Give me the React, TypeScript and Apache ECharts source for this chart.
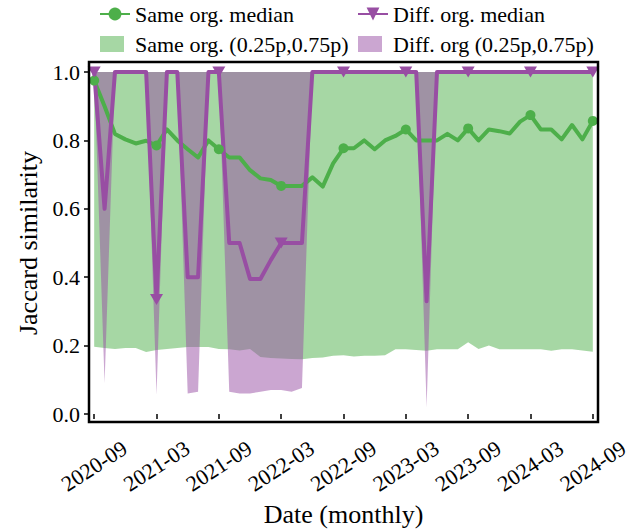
import React, { useEffect, useRef } from "react";
import * as echarts from "echarts";

const months = [
  "2020-09", "2020-10", "2020-11", "2020-12",
  "2021-01", "2021-02", "2021-03", "2021-04", "2021-05", "2021-06", "2021-07", "2021-08", "2021-09", "2021-10", "2021-11", "2021-12",
  "2022-01", "2022-02", "2022-03", "2022-04", "2022-05", "2022-06", "2022-07", "2022-08", "2022-09", "2022-10", "2022-11", "2022-12",
  "2023-01", "2023-02", "2023-03", "2023-04", "2023-05", "2023-06", "2023-07", "2023-08", "2023-09", "2023-10", "2023-11", "2023-12",
  "2024-01", "2024-02", "2024-03", "2024-04", "2024-05", "2024-06", "2024-07", "2024-08", "2024-09",
];

const sameMedian = [
  0.975, 0.9, 0.819, 0.803, 0.791, 0.799, 0.785, 0.832, 0.8, 0.774, 0.75, 0.8,
  0.774, 0.75, 0.75, 0.713, 0.689, 0.684, 0.667, 0.667, 0.667, 0.692, 0.665, 0.733,
  0.777, 0.777, 0.8, 0.774, 0.8, 0.813, 0.832, 0.8, 0.8, 0.8, 0.819, 0.8,
  0.835, 0.8, 0.832, 0.827, 0.82, 0.855, 0.874, 0.832, 0.832, 0.803, 0.845, 0.803,
  0.857,
];

const sameLower = [
  0.197, 0.193, 0.19, 0.193, 0.193, 0.181, 0.187, 0.19, 0.193, 0.196, 0.196, 0.196,
  0.19, 0.189, 0.186, 0.19, 0.167, 0.164, 0.162, 0.161, 0.16, 0.164, 0.165, 0.17,
  0.172, 0.168, 0.17, 0.17, 0.172, 0.189, 0.189, 0.187, 0.185, 0.189, 0.189, 0.189,
  0.21, 0.19, 0.2, 0.189, 0.189, 0.189, 0.189, 0.189, 0.185, 0.189, 0.189, 0.186,
  0.182,
];

const sameUpper = [
  1, 1, 1, 1, 1, 1, 1, 1, 1, 1, 1, 1,
  1, 1, 1, 1, 1, 1, 1, 1, 1, 1, 1, 1,
  1, 1, 1, 1, 1, 1, 1, 1, 1, 1, 1, 1,
  1, 1, 1, 1, 1, 1, 1, 1, 1, 1, 1, 1,
  1,
];

const diffMedian = [
  1, 0.6, 1, 1, 1, 1, 0.335, 1, 1, 0.4, 0.4, 1,
  1, 0.5, 0.5, 0.395, 0.395, 0.45, 0.5, 0.5, 0.5, 1, 1, 1,
  1, 1, 1, 1, 1, 1, 1, 1, 0.33, 1, 1, 1,
  1, 1, 1, 1, 1, 1, 1, 1, 1, 1, 1, 1,
  1,
];

const diffLower = [
  1, 0.09, 1, 1, 1, 1, 0.056, 1, 1, 0.06, 0.065, 1,
  1, 0.065, 0.06, 0.06, 0.065, 0.07, 0.07, 0.065, 0.076, 1, 1, 1,
  1, 1, 1, 1, 1, 1, 1, 1, 0.02, 1, 1, 1,
  1, 1, 1, 1, 1, 1, 1, 1, 1, 1, 1, 1,
  1,
];

const diffUpper = [
  1, 1, 1, 1, 1, 1, 1, 1, 1, 1, 1, 1,
  1, 1, 1, 1, 1, 1, 1, 1, 1, 1, 1, 1,
  1, 1, 1, 1, 1, 1, 1, 1, 1, 1, 1, 1,
  1, 1, 1, 1, 1, 1, 1, 1, 1, 1, 1, 1,
  1,
];

const SAME_MED = "Same org. median";
const DIFF_MED = "Diff. org. median";
const SAME_BAND = "Same org. (0.25p,0.75p)";
const DIFF_BAND = "Diff. org (0.25p,0.75p)";

const GREEN = "#4daf4a";
const PURPLE = "#984ea3";
const GREEN_FILL = "rgba(77,175,74,0.5)";
const PURPLE_FILL = "rgba(152,78,163,0.5)";
const FONT = "'Liberation Serif', 'Times New Roman', serif";

const W = 635;
const H = 531;
const G_LEFT = 89;
const G_RIGHT = 37;
const G_TOP = 72;
const G_BOTTOM = 117;
const FRAME_TOP = 62;
const FRAME_BOTTOM = 422;
const MARK_EVERY = 6;

const PATCH_ICON = "path://M0,0h24v16h-24z M30,16";

export default function App() {
  const ref = useRef<HTMLDivElement>(null);

  useEffect(() => {
    if (!ref.current) return;
    const chart = echarts.init(ref.current, null, { renderer: "svg" });

    const markData = (arr: number[]) =>
      arr.map((v, i) => (i % MARK_EVERY === 0 ? v : { value: v, symbol: "none" }));

    const bandSeries = (name: string, lower: number[], upper: number[], stack: string, fill: string) => [
      {
        type: "line",
        name: name + "_lower",
        data: lower,
        stack,
        symbol: "none",
        silent: true,
        clip: false,
        lineStyle: { width: 0, opacity: 0 },
      },
      {
        type: "line",
        name,
        data: upper.map((u, i) => +(u - lower[i]).toFixed(4)),
        stack,
        symbol: "none",
        silent: true,
        clip: false,
        lineStyle: { width: 0, opacity: 0 },
        itemStyle: { color: fill },
        areaStyle: { color: fill, opacity: 1 },
      },
    ];

    const textStyle = { fontFamily: FONT, fontSize: 22, color: "#000" };
    const tickStyle = { color: "#000", width: 1.5 };

    chart.setOption({
      animation: false,
      backgroundColor: "#fff",
      grid: {
        left: G_LEFT,
        right: G_RIGHT,
        top: G_TOP,
        bottom: G_BOTTOM,
        containLabel: false,
        outerBoundsMode: "none",
      },
      legend: [
        {
          left: 99,
          top: 3,
          orient: "vertical",
          padding: 0,
          itemGap: 8,
          itemWidth: 30,
          itemHeight: 16,
          textStyle,
          data: [
            { name: SAME_MED },
            { name: SAME_BAND, icon: PATCH_ICON, itemStyle: { color: GREEN_FILL, borderWidth: 0 } },
          ],
        },
        {
          left: 357,
          top: 3,
          orient: "vertical",
          padding: 0,
          itemGap: 8,
          itemWidth: 30,
          itemHeight: 16,
          textStyle,
          data: [
            { name: DIFF_MED },
            { name: DIFF_BAND, icon: PATCH_ICON, itemStyle: { color: PURPLE_FILL, borderWidth: 0 } },
          ],
        },
      ],
      xAxis: {
        type: "category",
        data: months,
        boundaryGap: true,
        offset: FRAME_BOTTOM - (H - G_BOTTOM),
        axisLine: { show: false },
        axisTick: { show: true, alignWithLabel: true, interval: MARK_EVERY - 1, length: 5, lineStyle: tickStyle },
        axisLabel: {
          interval: MARK_EVERY - 1,
          rotate: 33,
          align: "center",
          verticalAlign: "middle",
          margin: 44,
          ...textStyle,
        },
        splitLine: { show: false },
        name: "Date (monthly)",
        nameLocation: "middle",
        nameGap: 79,
        nameTextStyle: { fontFamily: FONT, fontSize: 26, color: "#000" },
      },
      yAxis: {
        type: "value",
        min: 0,
        max: 1,
        interval: 0.2,
        axisLine: { show: false },
        axisTick: { show: true, length: 5, lineStyle: tickStyle },
        axisLabel: { formatter: (v: number) => v.toFixed(1), margin: 9, ...textStyle },
        splitLine: { show: false },
        name: "Jaccard similarity",
        nameLocation: "middle",
        nameGap: 46,
        nameTextStyle: { fontFamily: FONT, fontSize: 26, color: "#000" },
      },
      graphic: [
        {
          type: "rect",
          silent: true,
          z: 100,
          shape: {
            x: G_LEFT,
            y: FRAME_TOP,
            width: W - G_LEFT - G_RIGHT,
            height: FRAME_BOTTOM - FRAME_TOP,
          },
          style: { fill: "none", stroke: "#000", lineWidth: 2.5 },
        },
      ],
      series: [
        ...bandSeries(SAME_BAND, sameLower, sameUpper, "same", GREEN_FILL),
        ...bandSeries(DIFF_BAND, diffLower, diffUpper, "diff", PURPLE_FILL),
        {
          type: "line",
          name: SAME_MED,
          data: markData(sameMedian),
          symbol: "circle",
          symbolSize: 10,
          showAllSymbol: true,
          clip: false,
          lineStyle: { color: GREEN, width: 4, join: "round" },
          itemStyle: { color: GREEN, borderWidth: 0 },
        },
        {
          type: "line",
          name: DIFF_MED,
          data: markData(diffMedian),
          symbol: "triangle",
          symbolRotate: 180,
          symbolSize: [13, 11],
          showAllSymbol: true,
          clip: false,
          lineStyle: { color: PURPLE, width: 4, join: "round" },
          itemStyle: { color: PURPLE, borderWidth: 0 },
        },
      ],
    });

    return () => chart.dispose();
  }, []);

  return (
    <div
      ref={ref}
      style={{ position: "fixed", left: 0, top: 0, width: W, height: H, background: "#fff" }}
    />
  );
}
